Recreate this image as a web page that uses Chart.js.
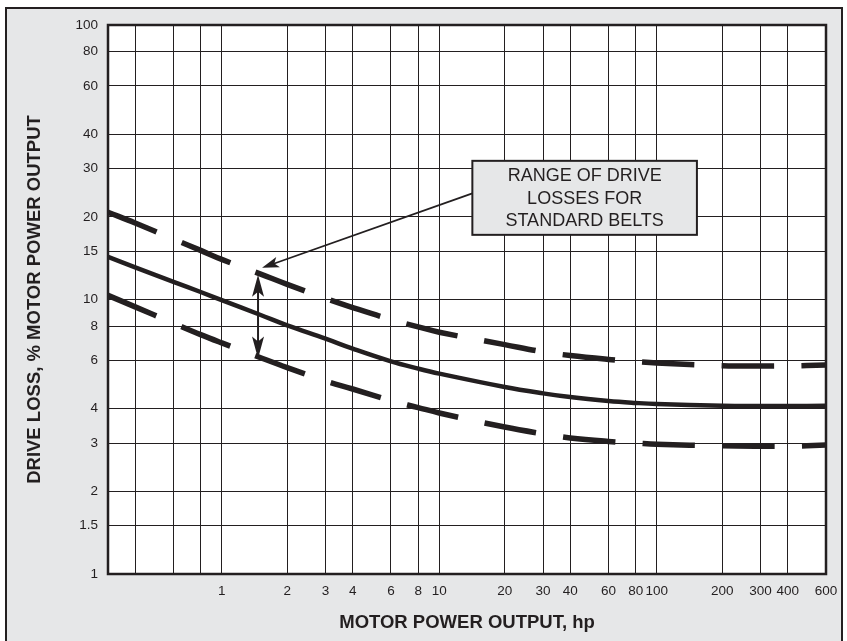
<!DOCTYPE html>
<html><head><meta charset="utf-8">
<script src="https://cdn.jsdelivr.net/npm/chart.js@4.4.1/dist/chart.umd.min.js"></script>
<style>
html,body{margin:0;padding:0;background:#fff;width:847px;height:641px;overflow:hidden}
#frame{position:absolute;left:5px;top:7px;width:838px;height:640px;background:#e6e7e8;border:2.5px solid #231f20;border-bottom:none;box-sizing:border-box}
#c{position:absolute;left:0;top:0}
</style></head>
<body>
<div id="frame"></div>
<canvas id="c" width="847" height="641"></canvas>
<script>
// ---- data ----
const hp = [0.3,0.4,0.6,0.8,1,1.5,2,3,4,6,8,10,20,30,40,60,80,100,200,300,400,600];
const lossUpper   = [20.8,19.0,16.6,15.1,14.0,12.4,11.35,10.1,9.35,8.45,7.95,7.6,6.85,6.45,6.25,6.05,5.94,5.87,5.74,5.72,5.73,5.77];
const lossTypical = [14.3,13.1,11.6,10.65,9.95,8.8,8.05,7.2,6.62,5.95,5.6,5.37,4.8,4.55,4.41,4.27,4.2,4.16,4.1,4.09,4.09,4.1];
const lossLower   = [10.35,9.4,8.2,7.45,6.95,6.15,5.65,5.05,4.72,4.28,4.04,3.86,3.43,3.24,3.13,3.04,3.0,2.97,2.93,2.92,2.92,2.95];
const xTickValues = [0.4,0.6,0.8,1,2,3,4,6,8,10,20,30,40,60,80,100,200,300,400,600];
const xTickLabels = ['','','','1','2','3','4','6','8','10','20','30','40','60','80','100','200','300','400','600'];
const yTickValues = [1,1.5,2,3,4,6,8,10,15,20,30,40,60,80,100];
const yTickLabels = ['1','1.5','2','3','4','6','8','10','15','20','30','40','60','80','100'];
const noteLines = ['RANGE OF DRIVE','LOSSES FOR','STANDARD BELTS'];
const rangeMarkHp = 1.5;
const noteBoxHp = [14.2, 153];     // left / right edge of note box (hp)
const noteBoxLoss = [32, 17.2];    // top / bottom edge of note box (%)

const INK = '#231f20';
const FONT = "'Liberation Sans', Arial, Helvetica, sans-serif";

const pts = arr => hp.map((v,i)=>({x:v,y:arr[i]}));

function head(ctx, tx, ty, ang, len, hw, notch){
  const c = Math.cos(ang), s = Math.sin(ang);
  const bx = tx - c*len, by = ty - s*len;
  ctx.beginPath();
  ctx.moveTo(tx,ty);
  ctx.lineTo(bx - s*hw, by + c*hw);
  ctx.lineTo(tx - c*(len-notch), ty - s*(len-notch));
  ctx.lineTo(bx + s*hw, by - c*hw);
  ctx.closePath();
  ctx.fill();
}

const decor = {
  id:'decor',
  beforeDraw(chart){
    const {ctx, chartArea:a} = chart;
    ctx.save(); ctx.fillStyle='#fff';
    ctx.fillRect(a.left,a.top,a.right-a.left,a.bottom-a.top);
    ctx.restore();
  },
  afterDatasetsDraw(chart){
    const {ctx, chartArea:a, scales:{x,y}} = chart;
    ctx.save();
    ctx.strokeStyle = INK; ctx.fillStyle = INK;
    ctx.lineWidth = 2.5;
    ctx.strokeRect(a.left, a.top, a.right-a.left, a.bottom-a.top);
    // double arrow across the range
    const i = hp.indexOf(rangeMarkHp);
    const ax = x.getPixelForValue(rangeMarkHp) - 2;
    const yT = y.getPixelForValue(lossUpper[i]) + 1;
    const yB = y.getPixelForValue(lossLower[i]) + 1;
    ctx.lineWidth = 2;
    ctx.beginPath(); ctx.moveTo(ax, yT+10); ctx.lineTo(ax, yB-10); ctx.stroke();
    head(ctx, ax, yT, -Math.PI/2, 22, 6, 5);
    head(ctx, ax, yB, Math.PI/2, 22, 6, 5);
    // note box
    const bl = x.getPixelForValue(noteBoxHp[0]), br = x.getPixelForValue(noteBoxHp[1]);
    const bt = y.getPixelForValue(noteBoxLoss[0]), bb = y.getPixelForValue(noteBoxLoss[1]);
    // leader arrow
    const sx = bl, sy = bt + (bb-bt)*0.44;
    const tx = ax + 4, ty = yT - 7;
    const ang = Math.atan2(ty-sy, tx-sx);
    ctx.lineWidth = 1.8;
    ctx.beginPath(); ctx.moveTo(sx,sy); ctx.lineTo(tx - Math.cos(ang)*10, ty - Math.sin(ang)*10); ctx.stroke();
    head(ctx, tx, ty, ang, 17, 5.5, 4);
    ctx.fillStyle = '#e6e7e8';
    ctx.fillRect(bl, bt, br-bl, bb-bt);
    ctx.lineWidth = 2;
    ctx.strokeRect(bl, bt, br-bl, bb-bt);
    ctx.fillStyle = INK;
    ctx.font = '18px ' + FONT;
    ctx.textAlign = 'center'; ctx.textBaseline = 'middle';
    const cx = (bl+br)/2, cy = (bt+bb)/2;
    noteLines.forEach((t,k)=> ctx.fillText(t, cx, cy + (k-1)*22.5 + 1));
    ctx.restore();
  }
};

new Chart(document.getElementById('c'), {
  type:'line',
  data:{datasets:[
    {data:pts(lossUpper), borderColor:INK, borderWidth:5.5, borderDash:[52.5,27.2], pointRadius:0, tension:0.4, fill:false},
    {data:pts(lossTypical), borderColor:INK, borderWidth:4.5, pointRadius:0, tension:0.4, fill:false},
    {data:pts(lossLower), borderColor:INK, borderWidth:5.5, borderDash:[52.5,27.2], pointRadius:0, tension:0.4, fill:false}
  ]},
  options:{
    responsive:false, animation:false, devicePixelRatio:1,
    layout:{padding:{left:0,top:25,right:21,bottom:0}},
    plugins:{legend:{display:false}, tooltip:{enabled:false}},
    scales:{
      x:{type:'logarithmic', min:0.3, max:600, bounds:'data',
        afterBuildTicks:s=>{ s.ticks = xTickValues.map(v=>({value:v})); },
        afterFit:s=>{ s.height = 67; },
        ticks:{autoSkip:false, maxRotation:0, minRotation:0, padding:9, color:INK, font:{family:FONT,size:13.5},
          callback:v=>xTickLabels[xTickValues.indexOf(v)]},
        grid:{color:INK, lineWidth:1, drawTicks:false},
        border:{display:false},
        title:{display:true, text:'MOTOR POWER OUTPUT, hp', color:INK, font:{family:FONT,size:18.5,weight:'bold'}, padding:{top:0,bottom:7}}
      },
      y:{type:'logarithmic', min:1, max:100, bounds:'data',
        afterBuildTicks:s=>{ s.ticks = yTickValues.map(v=>({value:v})); },
        afterFit:s=>{ s.width = 108; },
        ticks:{autoSkip:false, padding:10, color:INK, font:{family:FONT,size:13.5},
          callback:v=>yTickLabels[yTickValues.indexOf(v)]},
        grid:{color:INK, lineWidth:1, drawTicks:false},
        border:{display:false},
        title:{display:true, text:'DRIVE LOSS, % MOTOR POWER OUTPUT', color:INK, font:{family:FONT,size:18.5,weight:'bold'}, padding:{top:24,bottom:0}}
      }
    }
  },
  plugins:[decor]
});
</script>
</body></html>
